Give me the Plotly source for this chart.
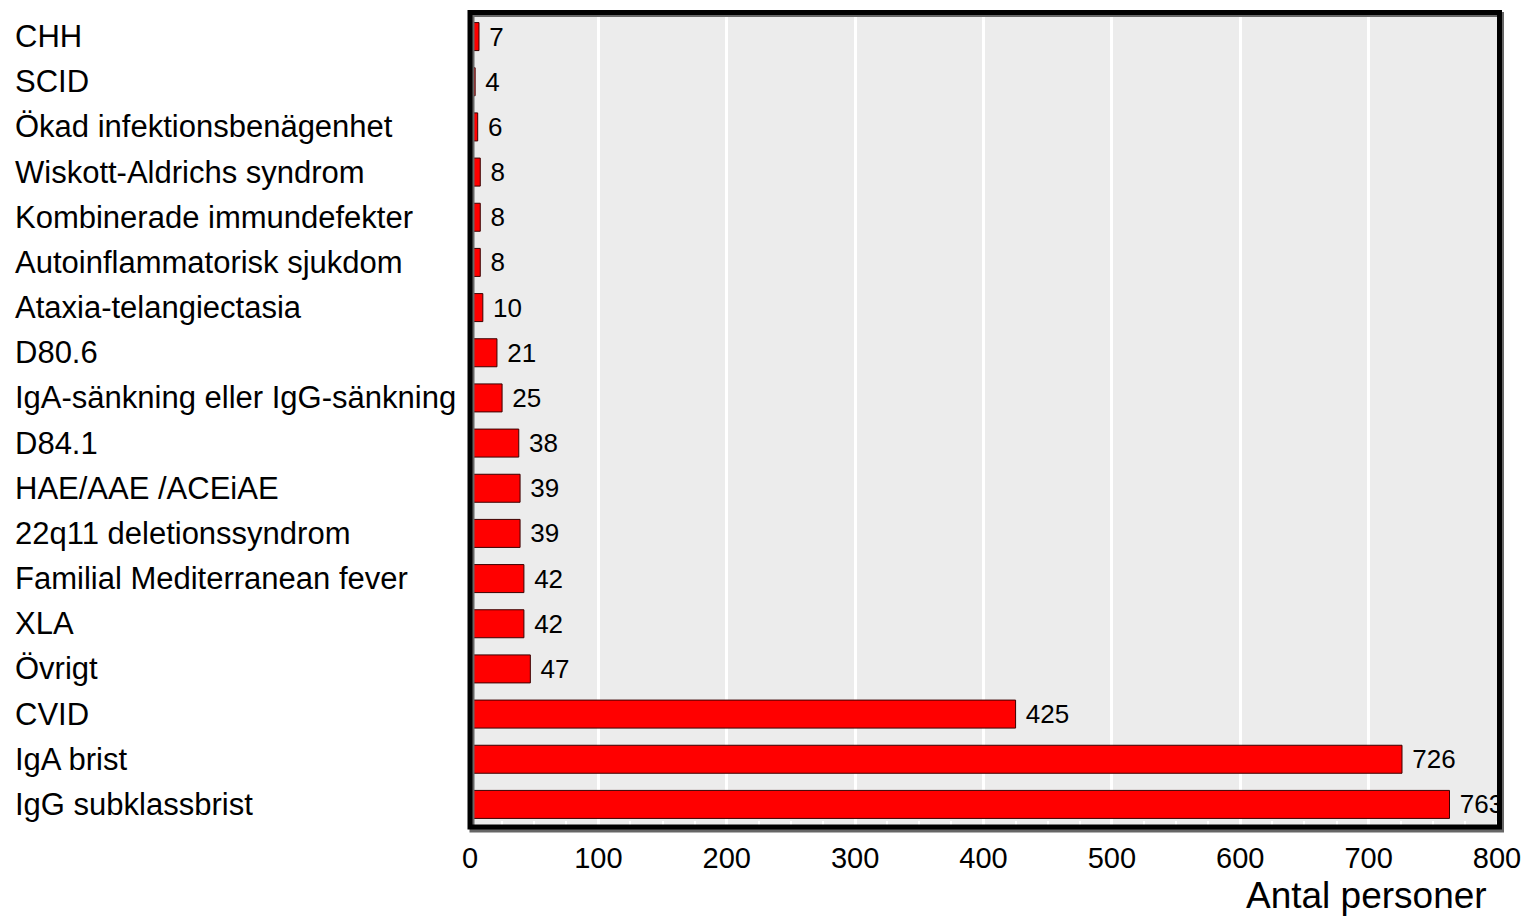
import plotly.graph_objects as go

categories = [
    "CHH", "SCID", "Ökad infektionsbenägenhet", "Wiskott-Aldrichs syndrom",
    "Kombinerade immundefekter", "Autoinflammatorisk sjukdom",
    "Ataxia-telangiectasia", "D80.6", "IgA-sänkning eller IgG-sänkning",
    "D84.1", "HAE/AAE /ACEiAE", "22q11 deletionssyndrom",
    "Familial Mediterranean fever", "XLA", "Övrigt", "CVID", "IgA brist",
    "IgG subklassbrist",
]
values = [7, 4, 6, 8, 8, 8, 10, 21, 25, 38, 39, 39, 42, 42, 47, 425, 726, 763]
x_ticks = [0, 100, 200, 300, 400, 500, 600, 700, 800]
x_title = "Antal personer"

FONT = "Liberation Sans, Arial, sans-serif"
# page body has an 8px margin, so the figure is sized/positioned to compensate
OFF = 8
W, H = 1530 - OFF, 916 - OFF
ML, MR, MT, MB = 461.5, 32.5, 6.4, 89.4
PW = W - ML - MR
PH = H - MT - MB

fig = go.Figure()
fig.add_trace(go.Bar(
    y=categories, x=values, orientation="h",
    marker=dict(color="#FF0000", line=dict(color="#3a0000", width=1)),
    texttemplate=" %{x}", textposition="outside",
    textfont=dict(family=FONT, size=26, color="black"),
    cliponaxis=False, constraintext="none",
    width=0.62,
))

annotations = []
for c in categories:
    annotations.append(dict(
        x=(12 - OFF - ML) / PW, xref="paper", y=c, yref="y",
        text=c, showarrow=False, xanchor="left", yanchor="middle",
        font=dict(family=FONT, size=31, color="black"),
    ))
annotations.append(dict(
    x=(1489 - OFF - ML) / PW, xref="paper",
    y=-((895 - OFF) - (H - MB)) / PH, yref="paper",
    text=x_title, showarrow=False, xanchor="right", yanchor="middle",
    font=dict(family=FONT, size=37, color="black"),
))

dx = 2.0 / PW
dy = 2.0 / PH
shapes = [
    dict(type="rect", xref="paper", yref="paper",
         x0=0 + dx, x1=1 + dx + 2.5 / PW, y0=0 - dy - 1 / PH, y1=1 - dy + 1.5 / PH,
         line=dict(color="#666", width=5), layer="above"),
    dict(type="rect", xref="paper", yref="paper",
         x0=0, x1=1 + 2.5 / PW, y0=0, y1=1 + 1.5 / PH,
         line=dict(color="black", width=5), layer="above"),
]

fig.update_layout(
    width=W, height=H,
    margin=dict(l=ML, r=MR, t=MT, b=MB, pad=0),
    paper_bgcolor="white", plot_bgcolor="#ECECEC",
    showlegend=False,
    font=dict(family=FONT, color="black"),
    annotations=annotations, shapes=shapes,
    xaxis=dict(
        range=[0, 800], tickvals=x_ticks, ticktext=[str(t) for t in x_ticks],
        showgrid=True, gridcolor="white", gridwidth=2.5,
        zeroline=False, showline=False, ticks="",
        ticklabelstandoff=11,
        tickfont=dict(family=FONT, size=29, color="black"),
        minor=dict(ticks="inside", ticklen=6, tickcolor="white", tickwidth=2, dtick=25, showgrid=False),
    ),
    yaxis=dict(
        categoryorder="array", categoryarray=categories,
        range=[len(categories) - 0.5, -0.5],
        showticklabels=False, showgrid=False, zeroline=False, ticks="",
    ),
)

fig.write_html("out.html")
